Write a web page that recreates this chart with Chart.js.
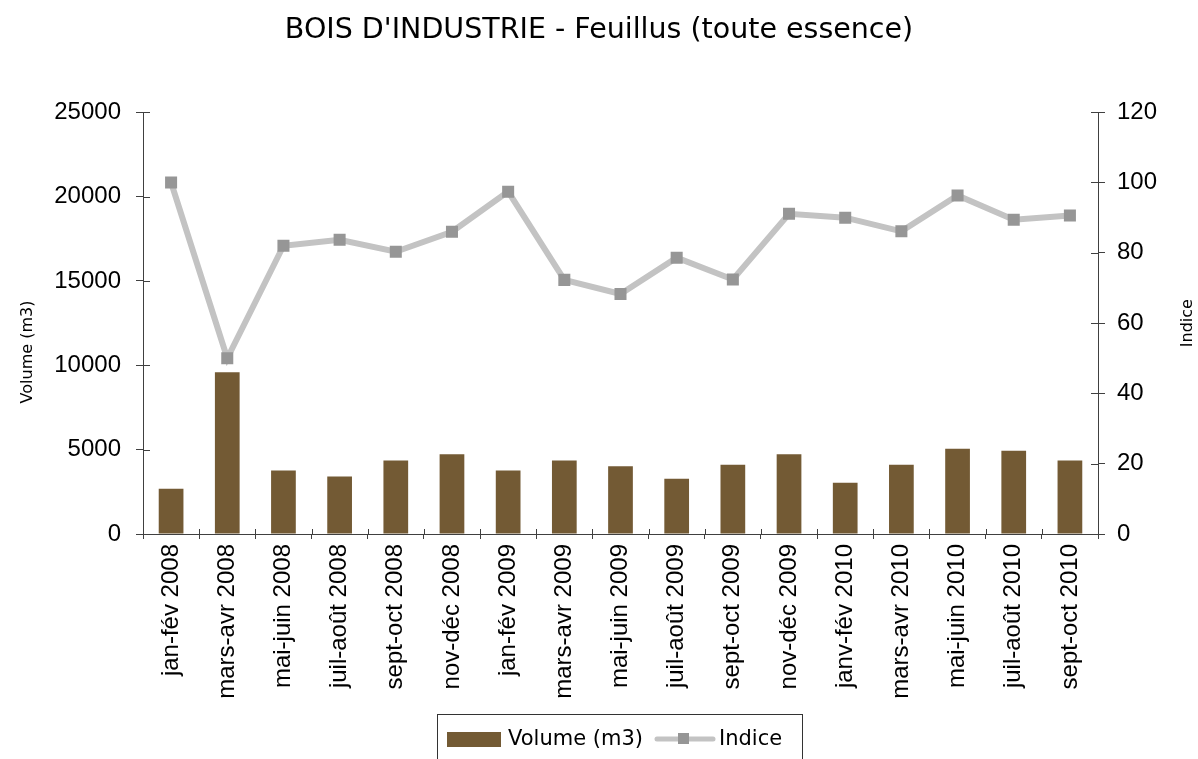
<!DOCTYPE html>
<html>
<head>
<meta charset="utf-8">
<script src="https://cdn.jsdelivr.net/npm/chart.js@4.4.1/dist/chart.umd.min.js"></script>
<style>
	body { margin: 0; background: #fff; }
	#wrap { width: 1198px; height: 759px; }
</style>
</head>
<body>
<div id="wrap"><canvas id="chart" width="1198" height="759"></canvas></div>
<script>
'use strict';

// periods on the x axis
var categories = [
	'jan-fév 2008', 'mars-avr 2008', 'mai-juin 2008', 'juil-août 2008', 'sept-oct 2008', 'nov-déc 2008',
	'jan-fév 2009', 'mars-avr 2009', 'mai-juin 2009', 'juil-août 2009', 'sept-oct 2009', 'nov-déc 2009',
	'janv-fév 2010', 'mars-avr 2010', 'mai-juin 2010', 'juil-août 2010', 'sept-oct 2010'
];

// volume (m3), left axis
var volumes = [2680, 9580, 3770, 3410, 4360, 4720, 3770, 4360, 4010, 3270, 4110, 4720, 3040, 4110, 5060, 4940, 4360];

// indice, right axis
var indices = [100, 50, 82, 83.7, 80.3, 86, 97.4, 72.3, 68.3, 78.6, 72.4, 91.1, 90, 86.1, 96.3, 89.4, 90.6];

var volumeTicks = [0, 25000, 5000];   // min, max, step
var indiceTicks = [0, 120, 20];

var axisColor = '#404040';
var tickFont = { family: 'Liberation Sans, Arial, sans-serif', size: 24 };
var labelFont = 'DejaVu Sans, sans-serif';

// ticks in the reference cross the axis line: draw the inner half
var innerTicks = {
	id: 'innerTicks',
	afterDatasetsDraw: function (chart) {
		var ctx = chart.ctx;
		var xs = chart.scales.x;
		var yl = chart.scales.y;
		var yr = chart.scales.y1;
		var step = xs.width / categories.length;
		ctx.save();
		ctx.strokeStyle = axisColor;
		ctx.lineWidth = 1;
		ctx.beginPath();
		for (var i = 0; i <= categories.length; i++) {
			var x = Math.round(xs.left + i * step) + 0.5;
			ctx.moveTo(x, xs.top);
			ctx.lineTo(x, xs.top - 5);
		}
		yl.ticks.forEach(function (t, i) {
			var y = Math.round(yl.getPixelForTick(i)) + 0.5;
			ctx.moveTo(yl.right, y);
			ctx.lineTo(yl.right + 7, y);
		});
		yr.ticks.forEach(function (t, i) {
			var y = Math.round(yr.getPixelForTick(i)) + 0.5;
			ctx.moveTo(yr.left, y);
			ctx.lineTo(yr.left - 7, y);
		});
		ctx.stroke();
		ctx.restore();
	}
};

// axis titles and the boxed legend, placed as in the reference
var extras = {
	id: 'extras',
	afterDraw: function (chart) {
		var ctx = chart.ctx;
		var area = chart.chartArea;
		ctx.save();
		ctx.fillStyle = '#000';
		ctx.textAlign = 'center';
		ctx.textBaseline = 'middle';
		ctx.font = '16px ' + labelFont;

		ctx.save();
		ctx.translate(28, 352);
		ctx.rotate(-Math.PI / 2);
		ctx.fillText('Volume (m3)', 0, 0);
		ctx.restore();

		ctx.save();
		ctx.translate(1188, (area.top + area.bottom) / 2);
		ctx.rotate(-Math.PI / 2);
		ctx.fillText('Indice', 0, 0);
		ctx.restore();

		// legend
		ctx.strokeStyle = '#333';
		ctx.lineWidth = 1;
		ctx.strokeRect(437.5, 714.5, 365, 60);

		ctx.fillStyle = chart.data.datasets[0].backgroundColor;
		ctx.fillRect(447, 732, 54, 15);

		ctx.fillStyle = '#000';
		ctx.textAlign = 'left';
		ctx.font = '21px ' + labelFont;
		ctx.fillText(chart.data.datasets[0].label, 508, 740);

		var line = chart.data.datasets[1];
		ctx.strokeStyle = line.borderColor;
		ctx.lineWidth = 5;
		ctx.lineCap = 'round';
		ctx.beginPath();
		ctx.moveTo(657, 739);
		ctx.lineTo(713, 739);
		ctx.stroke();
		ctx.fillStyle = line.pointBackgroundColor;
		ctx.fillRect(678, 733, 11, 11);

		ctx.fillStyle = '#000';
		ctx.fillText(line.label, 719, 740);
		ctx.restore();
	}
};

function plain(value) {
	return String(value);
}

new Chart(document.getElementById('chart'), {
	type: 'bar',
	data: {
		labels: categories,
		datasets: [{
			label: 'Volume (m3)',
			data: volumes,
			backgroundColor: '#735a34',
			yAxisID: 'y',
			categoryPercentage: 1,
			barPercentage: 0.44,
			order: 2
		}, {
			type: 'line',
			label: 'Indice',
			data: indices,
			yAxisID: 'y1',
			borderColor: '#c3c3c3',
			borderWidth: 6,
			tension: 0,
			pointStyle: 'rect',
			pointRadius: 8.5,
			pointBackgroundColor: '#969696',
			pointBorderWidth: 0,
			order: 1
		}]
	},
	options: {
		responsive: false,
		animation: false,
		layout: { padding: 0 },
		plugins: {
			legend: { display: false },
			tooltip: { enabled: false },
			title: {
				display: true,
				text: "BOIS D'INDUSTRIE - Feuillus (toute essence)",
				color: '#000',
				font: { family: labelFont, size: 28.5, weight: 'normal' },
				padding: { top: 13, bottom: 65 }
			}
		},
		scales: {
			x: {
				offset: true,
				grid: { drawOnChartArea: false, tickLength: 5, color: axisColor },
				border: { color: axisColor },
				ticks: { minRotation: 90, maxRotation: 90, autoSkip: false, color: '#000', font: tickFont, padding: 5 },
				afterFit: function (scale) { scale.height = 225; }
			},
			y: {
				position: 'left',
				min: volumeTicks[0],
				max: volumeTicks[1],
				grid: { drawOnChartArea: false, tickLength: 7, color: axisColor },
				border: { color: axisColor },
				ticks: { stepSize: volumeTicks[2], color: '#000', font: tickFont, padding: 15, callback: plain },
				afterFit: function (scale) { scale.width = 143; }
			},
			y1: {
				position: 'right',
				min: indiceTicks[0],
				max: indiceTicks[1],
				grid: { drawOnChartArea: false, tickLength: 7, color: axisColor },
				border: { color: axisColor },
				ticks: { stepSize: indiceTicks[2], color: '#000', font: tickFont, padding: 12, callback: plain },
				afterFit: function (scale) { scale.width = 100; }
			}
		}
	},
	plugins: [innerTicks, extras]
});
</script>
</body>
</html>
